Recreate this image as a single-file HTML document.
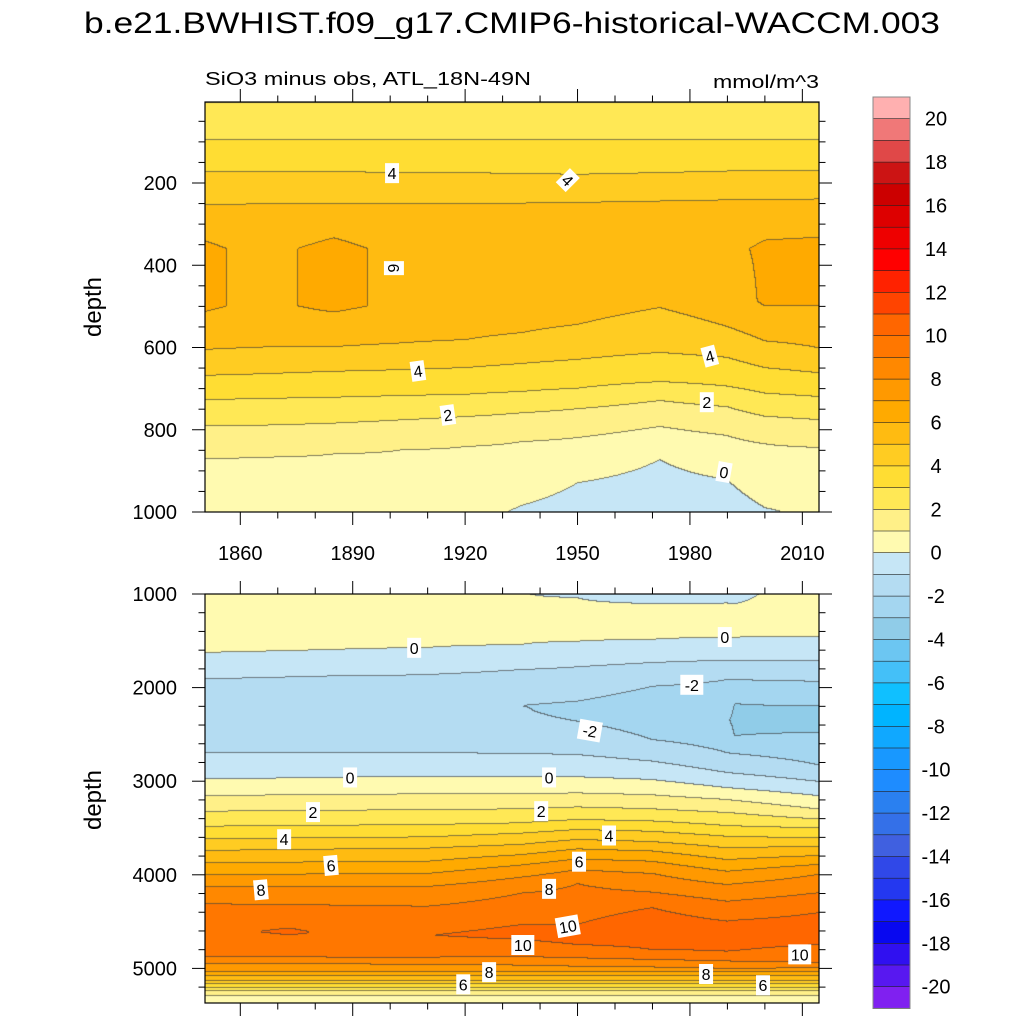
<!DOCTYPE html>
<html>
<head>
<meta charset="utf-8">
<style>
  html, body { margin:0; padding:0; background:#ffffff; }
  #root { position:relative; width:1024px; height:1024px; overflow:hidden; background:#fff; font-family:"Liberation Sans", sans-serif; }
  canvas { position:absolute; }
  svg { position:absolute; left:0; top:0; }
</style>
</head>
<body>
<div id="root">
  <canvas id="topCanvas"></canvas>
  <canvas id="botCanvas"></canvas>
  <svg id="ov" width="1024" height="1024">
    <text x="512" y="33" text-anchor="middle" font-size="30" textLength="856" lengthAdjust="spacingAndGlyphs" fill="#000">b.e21.BWHIST.f09_g17.CMIP6-historical-WACCM.003</text>
    <text x="205" y="85" font-size="18" fill="#000" textLength="326" lengthAdjust="spacingAndGlyphs">SiO3 minus obs, ATL_18N-49N</text>
    <text x="819" y="88" font-size="18" fill="#000" text-anchor="end" textLength="106" lengthAdjust="spacingAndGlyphs">mmol/m^3</text>
    <text transform="translate(101,307) rotate(-90)" text-anchor="middle" font-size="24" fill="#000">depth</text>
    <text transform="translate(101,800) rotate(-90)" text-anchor="middle" font-size="24" fill="#000">depth</text>
  </svg>
</div>
<script>
// ---------------- DATA ----------------
const levelColors = ["#8020f0","#5818f0","#3010f0","#0808f0","#1018ff","#2438f0","#3048e8","#4060e0","#3470e8","#2a80f0","#1e8cff","#1898ff","#10a8ff","#00b4ff","#10c0ff","#44c0f8","#6cc6f2","#90cce8","#a4d6f0","#b4dcf2","#c6e6f6","#fffab0","#fff088","#ffe855","#ffdd33","#ffcc22","#ffbb11","#ffaa00","#ff9900","#ff8800","#ff7700","#ff6600","#ff4400","#ff2200","#ff0000","#ee0000","#dd0000","#cc0000","#cc1414","#e04848","#f07878","#ffb0b0"];
const colorbarLabels = [20,18,16,14,12,10,8,6,4,2,0,-2,-4,-6,-8,-10,-12,-14,-16,-18,-20];
const xTickYears = [1860,1890,1920,1950,1980,2010];
const topDepthTicks = [200,400,600,800,1000];
const botDepthTicks = [1000,2000,3000,4000,5000];

// Upper panel (0-1000 m): anchor years and [depth, value] profiles
const topYears = [1850,1866,1885,1903,1920,1935,1950,1972,1990,2000,2014];
const topProfiles = [
  [[0,1.9],[8,2.05],[95,3],[173,4],[253,5],[300,5.8],[360,6.1],[500,6.1],[545,5.8],[606,5],[669,4],[728,3],[791,2],[871,1],[1000,0.4]],
  [[0,1.9],[8,2.05],[95,3],[173,4],[252,5],[300,5.6],[360,5.85],[500,5.85],[545,5.6],[600,5],[665,4],[725,3],[790,2],[868,1],[1000,0.4]],
  [[0,1.9],[8,2.05],[95,3],[174,4],[252,5],[300,5.8],[360,6.15],[500,6.15],[545,5.7],[599,5],[659,4],[722,3],[785,2],[860,1],[1000,0.35]],
  [[0,1.9],[8,2.05],[95,3],[175,4],[252,5],[300,5.6],[360,5.85],[500,5.85],[540,5.5],[590,5],[655,4],[718,3],[777,2],[850,1],[1000,0.3]],
  [[0,1.9],[8,2.05],[96,3],[176,4],[252,5],[300,5.6],[360,5.85],[480,5.8],[530,5.5],[582,5],[650,4],[715,3],[769,2],[842,1],[1000,0.15]],
  [[0,1.9],[8,2.05],[96,3],[178,4],[250,5],[300,5.6],[370,5.8],[470,5.7],[520,5.4],[565,5],[640,4],[708,3],[760,2],[830,1],[985,0],[1000,-0.05]],
  [[0,1.9],[8,2.05],[95,3],[180,4],[248,5],[300,5.6],[380,5.8],[480,5.5],[545,5],[630,4],[700,3],[750,2],[820,1],[930,0],[1000,-0.3]],
  [[0,1.9],[8,2.05],[95,3],[176,4],[245,5],[300,5.5],[400,5.5],[504,5],[613,4],[684,3],[730,2],[793,1],[873,0],[1000,-0.6]],
  [[0,1.9],[8,2.05],[95,3],[172,4],[242,5],[300,5.6],[360,5.85],[480,5.6],[550,5],[625,4],[695,3],[745,2],[815,1],[922,0],[1000,-0.4]],
  [[0,1.9],[8,2.05],[95,3],[172,4],[242,5],[300,5.8],[360,6.1],[490,6.1],[535,5.6],[585,5],[650,4],[712,3],[768,2],[835,1],[990,0],[1000,-0.05]],
  [[0,1.9],[8,2.05],[95,3],[172,4],[240,5],[300,5.8],[350,6.1],[490,6.1],[540,5.6],[601,5],[662,4],[720,3],[776,2],[844,1],[1000,0.1]]
];

// Lower panel (1000-5374 m)
const botYears = [1850,1862,1873,1884,1910,1935,1950,1970,1990,1992,2014];
const botTail = [[5040,7],[5085,6],[5130,5],[5170,4],[5210,3],[5245,2],[5290,1],[5374,0.4]];
const botProfiles = [
  [[1000,0.5],[1250,0.9],[1630,0],[1910,-1],[2300,-1.6],[2700,-1],[2980,0],[3158,1],[3326,2],[3486,3],[3621,4],[3742,5],[3877,6],[4002,7],[4127,8],[4315,9],[4611,9.9],[4882,9],[4953,8]],
  [[1000,0.5],[1250,0.8],[1620,0],[1900,-1],[2300,-1.6],[2700,-1],[2975,0],[3155,1],[3322,2],[3482,3],[3618,4],[3740,5],[3873,6],[4000,7],[4127,8],[4318,9],[4611,9.95],[4882,9],[4955,8]],
  [[1000,0.45],[1250,0.6],[1610,0],[1890,-1],[2300,-1.65],[2700,-1],[2970,0],[3150,1],[3318,2],[3478,3],[3612,4],[3735,5],[3870,6],[3998,7],[4127,8],[4322,9],[4611,10.15],[4882,9],[4955,8]],
  [[1000,0.45],[1250,0.5],[1600,0],[1880,-1],[2300,-1.65],[2700,-1],[2965,0],[3147,1],[3315,2],[3475,3],[3608,4],[3730,5],[3866,6],[3995,7],[4128,8],[4328,9],[4630,9.9],[4884,9],[4957,8]],
  [[1000,0.4],[1250,0.4],[1577,0],[1865,-1],[2300,-1.7],[2700,-1],[2952,0],[3140,1],[3310,2],[3470,3],[3600,4],[3720,5],[3860,6],[3990,7],[4130,8],[4340,9],[4650,9.98],[4885,9],[4960,8]],
  [[1000,0.05],[1250,0.3],[1545,0],[1812,-1],[2197,-2],[2450,-1.6],[2710,-1],[2958,0],[3140,1],[3300,2],[3450,3],[3560,4],[3680,5],[3790,6],[3900,7],[4030,8],[4200,9],[4400,9.6],[4640,10.3],[4880,9],[4970,8]],
  [[1000,-0.3],[1043,0],[1250,0.3],[1510,0],[1783,-1],[2150,-2],[2250,-2.3],[2364,-2],[2720,-1],[2958,0],[3130,1],[3280,2],[3415,3],[3521,4],[3628,5],[3728,6],[3835,7],[3950,8],[4098,9],[4536,10],[4640,10.5],[4750,10],[4892,9],[4982,8]],
  [[1000,-0.6],[1107,0],[1250,0.2],[1490,0],[1737,-1],[1990,-2],[2250,-2.6],[2560,-2],[2790,-1],[2987,0],[3150,1],[3300,2],[3430,3],[3540,4],[3650,5],[3750,6],[3860,7],[3990,8],[4190,9],[4355,10],[4580,10.7],[4803,10],[4910,9],[4990,8]],
  [[1000,-0.3],[1100,0],[1250,0.15],[1470,0],[1712,-1],[1919,-2],[2350,-2.9],[2700,-2],[2912,-1],[3073,0],[3200,1],[3340,2],[3479,3],[3593,4],[3717,5],[3842,6],[3967,7],[4109,8],[4287,9],[4500,10],[4650,10.6],[4821,10],[4925,9],[5005,8]],
  [[1000,-0.25],[1110,0],[1250,0.15],[1468,0],[1712,-1],[1920,-2],[2175,-3],[2350,-3.2],[2517,-3],[2710,-2],[2920,-1],[3080,0],[3210,1],[3345,2],[3482,3],[3595,4],[3715,5],[3838,6],[3960,7],[4100,8],[4280,9],[4490,10],[4640,10.6],[4815,10],[4928,9],[5005,8]],
  [[1000,0.6],[1456,0],[1716,-1],[1937,-2],[2200,-3],[2380,-3.2],[2482,-3],[2827,-2],[3005,-1],[3158,0],[3300,1],[3407,2],[3503,3],[3610,4],[3700,5],[3800,6],[3895,7],[4002,8],[4198,9],[4411,10],[4580,10.5],[4750,10],[4946,9],[4999,8]]
];

// Contour labels: [year, depth, text, rotation]
const topLabels = [[1900.5,176,"4",0],[1947.4,193,"4",45],[1901,407,"6",90],[1907.4,657,"4",-8],[1985.3,621,"4",-15],[1915.4,764,"2",-8],[1984.5,733,"2",0],[1989.1,903,"0",10]];
const botLabels = [[1906.4,1575,"0",0],[1989.3,1460,"0",0],[1980.5,1970,"-2",0],[1953.3,2460,"-2",10],[1889.3,2960,"0",0],[1942.4,2960,"0",0],[1879.4,3330,"2",0],[1940.3,3320,"2",0],[1871.7,3620,"4",0],[1958.4,3580,"4",0],[1884.2,3900,"6",-5],[1950.4,3860,"6",0],[1865.5,4160,"8",-5],[1942.4,4150,"8",0],[1947.4,4550,"10",-10],[1935.4,4750,"10",0],[2009.3,4850,"10",0],[1926.4,5040,"8",0],[1984.3,5060,"8",0],[1919.5,5170,"6",0],[1999.5,5180,"6",0]];

// ---------------- AXES ----------------
const PX0 = 205, PX1 = 819;
const TOP = {y0:102, y1:512, dMin:3, dMax:1000};
const BOT = {y0:594, y1:1003, dMin:1000, dMax:5374};
function xOfYear(yr){ return 240.3 + (yr-1860)*3.747; }
function yearOfX(x){ return 1860 + (x-240.3)/3.747; }
function yTop(d){ return 512 - (1000-d)*0.41125; }
function dTop(y){ return 1000 - (512-y)/0.41125; }
function yBot(d){ return 594 + (d-1000)*0.0936; }
function dBot(y){ return 1000 + (y-594)/0.0936; }

function profVal(p, d){
  if (d <= p[0][0]) return p[0][1];
  for (let i=1;i<p.length;i++){
    if (d <= p[i][0]){ const a=p[i-1], b=p[i]; const t=(d-a[0])/(b[0]-a[0]); return a[1]+t*(b[1]-a[1]); }
  }
  return p[p.length-1][1];
}
function hexToRgb(h){ return [parseInt(h.substr(1,2),16),parseInt(h.substr(3,2),16),parseInt(h.substr(5,2),16)]; }
const rgbLevels = levelColors.map(hexToRgb);

function drawField(canvasId, panel, years, profiles, depthOf){
  const cv = document.getElementById(canvasId);
  const W = PX1-PX0, H = panel.y1-panel.y0;
  cv.width = W; cv.height = H;
  cv.style.left = PX0+'px'; cv.style.top = panel.y0+'px';
  cv.style.width = W+'px'; cv.style.height = H+'px';
  const ctx = cv.getContext('2d');
  const img = ctx.createImageData(W,H);
  const av = profiles.map(p => { const a = new Float32Array(H); for (let r=0;r<H;r++){ a[r]=profVal(p, depthOf(panel.y0+r+0.5)); } return a; });
  const lev = new Int16Array(W*H);
  for (let c=0;c<W;c++){
    const yr = yearOfX(PX0+c+0.5);
    let k = 0; while (k < years.length-2 && yr > years[k+1]) k++;
    let t = (yr-years[k])/(years[k+1]-years[k]); t = Math.max(0, Math.min(1,t));
    for (let r=0;r<H;r++){
      const v = av[k][r]*(1-t) + av[k+1][r]*t;
      let L = Math.floor(v)+21; L = Math.max(0, Math.min(41, L));
      lev[r*W+c] = L;
    }
  }
  for (let r=0;r<H;r++) for (let c=0;c<W;c++){
    const L = lev[r*W+c];
    let col = rgbLevels[L];
    const edge = (c<W-1 && lev[r*W+c+1]!==L) || (r<H-1 && lev[(r+1)*W+c]!==L);
    const i = (r*W+c)*4;
    if (edge){ img.data[i]=col[0]*0.35+40; img.data[i+1]=col[1]*0.35+40; img.data[i+2]=col[2]*0.35+40; }
    else { img.data[i]=col[0]; img.data[i+1]=col[1]; img.data[i+2]=col[2]; }
    img.data[i+3]=255;
  }
  ctx.putImageData(img,0,0);
}
drawField('topCanvas', TOP, topYears, topProfiles, dTop);
drawField('botCanvas', BOT, botYears, botProfiles.map(p => p.concat(botTail)), dBot);

// ---------------- SVG OVERLAY ----------------
const NS = "http://www.w3.org/2000/svg";
const ov = document.getElementById('ov');
function line(x1,y1,x2,y2,w){ const l=document.createElementNS(NS,'line'); l.setAttribute('x1',x1); l.setAttribute('y1',y1); l.setAttribute('x2',x2); l.setAttribute('y2',y2); l.setAttribute('stroke','#000'); l.setAttribute('stroke-width',w||1); ov.appendChild(l); return l; }

[TOP,BOT].forEach((P,pi) => {
  const fr = document.createElementNS(NS,'rect');
  fr.setAttribute('x',PX0); fr.setAttribute('y',P.y0); fr.setAttribute('width',PX1-PX0); fr.setAttribute('height',P.y1-P.y0);
  fr.setAttribute('fill','none'); fr.setAttribute('stroke','#000'); fr.setAttribute('stroke-width','1.2');
  
  
  ov.appendChild(fr);
  for (let yr=1860; yr<=2014; yr+=10){
    const x = xOfYear(yr); const major = (yr-1860)%30===0; const len = major?13:6.5;
    const t1 = line(x,P.y0,x,P.y0-len,1);
    
    
    const t2 = line(x,P.y1,x,P.y1+len,1);
    
    
  }
});
xTickYears.forEach(yr => {
  const t = document.createElementNS(NS,'text');
  t.setAttribute('x', xOfYear(yr)); t.setAttribute('y', 560); t.setAttribute('text-anchor','middle'); t.setAttribute('font-size','20');
  t.textContent = yr;
  
  
  ov.appendChild(t);
});
function yTicks(P, yOf, step, minor, majors){
  for (let d = Math.ceil(P.dMin/minor)*minor; d <= P.dMax; d += minor){
    const y = yOf(d); if (y < P.y0-0.5 || y > P.y1+0.5) continue;
    const major = majors.indexOf(d) >= 0; const len = major?13:6.5;
    const a = line(PX0,y,PX0-len,y,1);
    
    
    const b = line(PX1,y,PX1+len,y,1);
    
    
  }
  majors.forEach(d => {
    const t = document.createElementNS(NS,'text');
    t.setAttribute('x', 177); t.setAttribute('y', yOf(d)+7); t.setAttribute('text-anchor','end'); t.setAttribute('font-size','20');
    t.textContent = d;
    
    
    ov.appendChild(t);
  });
}
yTicks(TOP, yTop, 200, 50, topDepthTicks);
yTicks(BOT, yBot, 1000, 200, botDepthTicks);

function contourLabel(x, y, txt, rot){
  const g = document.createElementNS(NS,'g');
  g.setAttribute('transform', 'translate('+x+','+y+') rotate('+rot+')');
  
  
  const w = txt.length*9+5;
  const r = document.createElementNS(NS,'rect');
  r.setAttribute('x', -w/2); r.setAttribute('y', -10); r.setAttribute('width', w); r.setAttribute('height', 20); r.setAttribute('fill','#fff');
  g.appendChild(r);
  const t = document.createElementNS(NS,'text');
  t.setAttribute('x',0); t.setAttribute('y',6); t.setAttribute('text-anchor','middle'); t.setAttribute('font-size','16');
  t.textContent = txt;
  g.appendChild(t);
  ov.appendChild(g);
}
topLabels.forEach(l => contourLabel(xOfYear(l[0]), yTop(l[1]), l[2], l[3]));
botLabels.forEach(l => contourLabel(xOfYear(l[0]), yBot(l[1]), l[2], l[3]));

// Colorbar
const CB = {x:873, w:37, y0:97, step:21.7};
for (let i=0;i<42;i++){
  const L = 41 - i;
  const r = document.createElementNS(NS,'rect');
  r.setAttribute('x', CB.x); r.setAttribute('y', CB.y0 + i*CB.step); r.setAttribute('width', CB.w); r.setAttribute('height', CB.step+0.3);
  r.setAttribute('fill', levelColors[L]); r.setAttribute('stroke','#222'); r.setAttribute('stroke-width','0.6');
  
  
  ov.appendChild(r);
}
const cbf = document.createElementNS(NS,'rect');
cbf.setAttribute('x',CB.x); cbf.setAttribute('y',CB.y0); cbf.setAttribute('width',CB.w); cbf.setAttribute('height',42*CB.step);
cbf.setAttribute('fill','none'); cbf.setAttribute('stroke','#888'); cbf.setAttribute('stroke-width','1');


ov.appendChild(cbf);
colorbarLabels.forEach(v => {
  const t = document.createElementNS(NS,'text');
  t.setAttribute('x', 936); t.setAttribute('y', CB.y0 + (21-v)*CB.step + 7); t.setAttribute('text-anchor','middle'); t.setAttribute('font-size','20');
  t.textContent = v;
  
  
  ov.appendChild(t);
});
</script>
</body>
</html>
